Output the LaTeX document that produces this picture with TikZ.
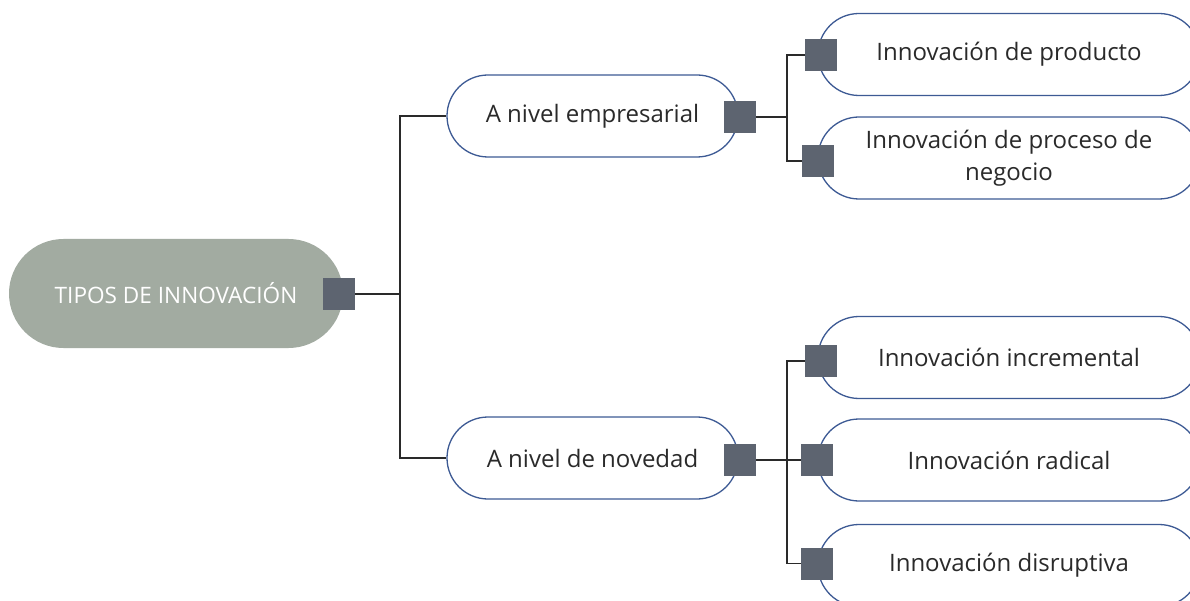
\documentclass[tikz,border=0pt]{standalone}
\usepackage{fontspec}
\setmainfont{Open Sans}
\usetikzlibrary{positioning}
\definecolor{sage}{HTML}{A2ABA1}
\definecolor{slate}{HTML}{5D6470}
\definecolor{pillblue}{HTML}{3D5A94}
\definecolor{ink}{HTML}{2A2A2A}
\tikzset{
  rootpill/.style={fill=sage, text=white, rounded corners=54.5pt,
    minimum width=334pt, minimum height=109pt, font=\fontsize{22.6}{28}\selectfont},
  pill/.style={draw=pillblue, line width=1.3pt, fill=white, text=ink,
    rounded corners=41pt, minimum height=82pt, align=center,
    font=\fontsize{24}{32}\selectfont},
  midpill/.style={pill, minimum width=291pt},
  leafpill/.style={pill, minimum width=382pt},
  knob/.style={fill=slate, minimum size=32pt, inner sep=0pt},
  link/.style={draw=ink, line width=1.3pt}
}
\begin{document}
\begin{tikzpicture}[x=1pt,y=-1pt]
  \useasboundingbox (0,0) rectangle (1190,601);
  % pills
  \node[rootpill](Tipos)        at (176,293.5) {TIPOS DE INNOVACIÓN};
  \node[midpill](Empresarial)   at (592.5,116) {A nivel empresarial};
  \node[midpill](Novedad)       at (592.5,458) {A nivel de novedad};
  \node[leafpill](Producto)     at (1009,54.5) {Innovación de producto};
  \node[leafpill](Proceso)      at (1009,158)  {Innovación de proceso de\\negocio};
  \node[leafpill](Incremental)  at (1009,357.5) {Innovación incremental};
  \node[leafpill](Radical)      at (1009,460)  {Innovación radical};
  \node[leafpill](Disruptiva)   at (1009,565.5) {Innovación disruptiva};
  % squares
  \node[knob](TiposSq)        at (339,294) {};
  \node[knob](EmpresarialSq)  at (740,117) {};
  \node[knob](NovedadSq)      at (740,459.5) {};
  \node[knob](ProductoSq)     at (821,55) {};
  \node[knob](ProcesoSq)      at (818,161) {};
  \node[knob](IncrementalSq)  at (821,361) {};
  \node[knob](RadicalSq)      at (817,460) {};
  \node[knob](DisruptivaSq)   at (817,563.5) {};
  % branch points
  \coordinate(SplitTop) at (400,294);
  \coordinate(SplitEmp) at (787,117);
  \coordinate(SplitNov) at (787,460);
  \draw[link](TiposSq.east) -- (SplitTop);
  \draw[link](SplitTop) |- (Empresarial.west);
  \draw[link](SplitTop) |- (Novedad.west);
  \draw[link](EmpresarialSq.east) -- (SplitEmp);
  \draw[link](SplitEmp) |- (ProductoSq.west);
  \draw[link](SplitEmp) |- (ProcesoSq.west);
  \draw[link](NovedadSq.east |- SplitNov) -- (SplitNov);
  \draw[link](SplitNov) |- (IncrementalSq.west);
  \draw[link](SplitNov) |- (RadicalSq.west);
  \draw[link](SplitNov) |- (DisruptivaSq.west);
\end{tikzpicture}
\end{document}
